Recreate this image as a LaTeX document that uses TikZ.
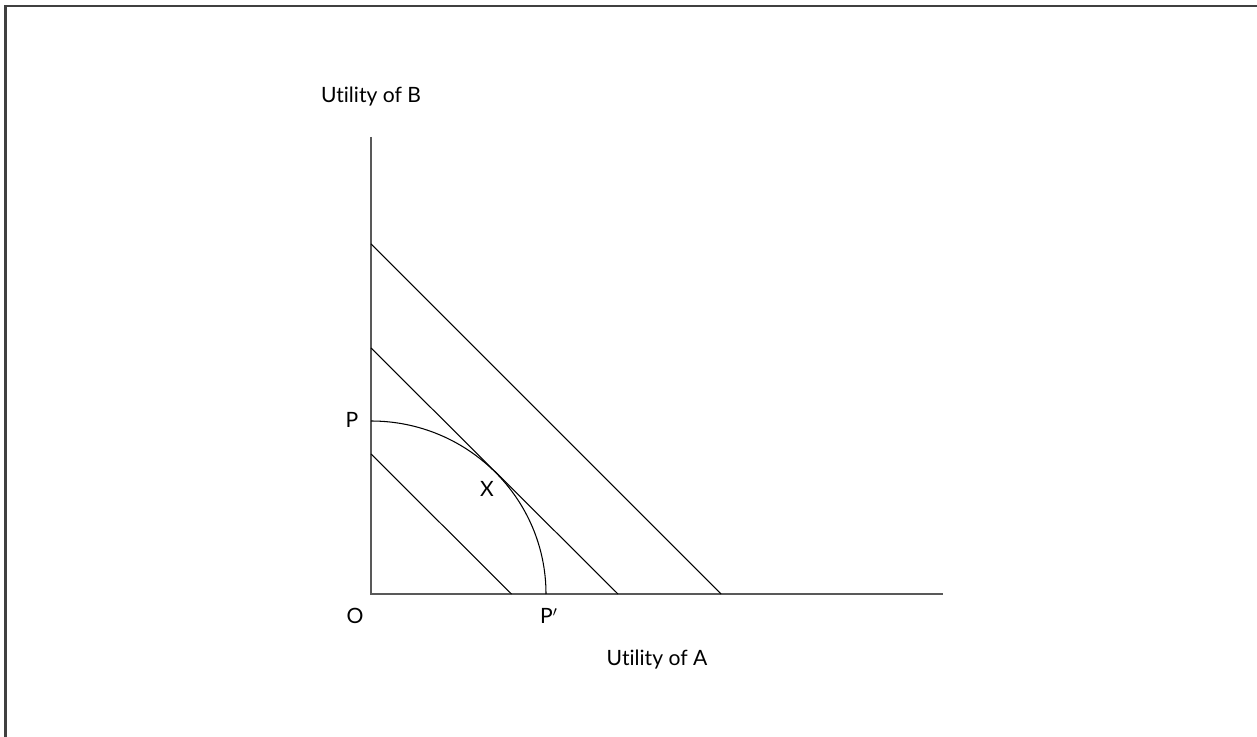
\documentclass[tikz,border=0pt]{standalone}
\usepackage{fontspec}
\setmainfont{Lato}[Ligatures={NoCommon,NoRequired,NoContextual}]
\usepackage{tikz}
\usetikzlibrary{positioning}

\begin{document}
\begin{tikzpicture}[font=\fontsize{12}{14}\selectfont, axis/.style={draw=black!65, line width=0.9pt}, budget/.style={draw=black, line width=0.6pt}]
			\useasboundingbox (-7.42,-2.84) rectangle (17.72,11.88);
			\draw[black!75, line width=1.2pt] (-7.31,-2.9) -- (-7.31,11.76) -- (17.8,11.76);

			\coordinate (O) at (0,0);
			\coordinate (ytop) at (0,9.14);
			\coordinate (xend) at (11.44,0);
			\coordinate (b1) at (0,7.0);   \coordinate (a1) at (7.0,0);
			\coordinate (b2) at (0,4.92);  \coordinate (a2) at (4.94,0);
			\coordinate (b3) at (0,2.8);   \coordinate (a3) at (2.81,0);
			\coordinate (p) at (0,3.46);   \coordinate (pp) at (3.5,0);

			\draw[axis] (ytop) -- (O) -- (xend);
			\draw[budget] (b1) -- (a1);
			\draw[budget] (b2) -- (a2);
			\draw[budget] (b3) -- (a3);
			\draw[budget] (p) arc[start angle=90, end angle=0, x radius=3.5, y radius=3.46];

			\node (lblB) at (0,9.94) {Utility of B};
			\node (lblA) at (5.72,-1.32) {Utility of A};
			\node (lblO) at (-0.32,-0.44) {O};
			\node (lblP) at (-0.38,3.48) {P};
			\node (lblPp) at (3.56,-0.44) {P$'$};
			\node (lblX) at (2.32,2.1) {X};
		\end{tikzpicture}
\end{document}
